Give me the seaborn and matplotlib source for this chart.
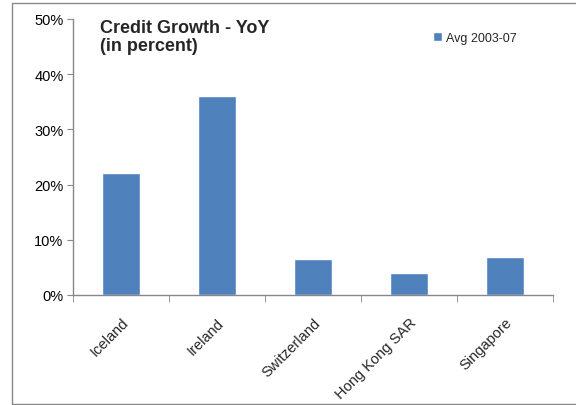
import matplotlib
matplotlib.use('Agg')
import matplotlib.pyplot as plt
import matplotlib.patches as mpatches
import matplotlib.ticker as mticker
import pandas
import seaborn as sns

paises = ['Iceland', 'Ireland', 'Switzerland', 'Hong Kong SAR', 'Singapore']
credito = [22.0, 36.0, 6.6, 3.9, 6.9]
serie = 'Avg 2003-07'

sns.set_style('white')
plt.rcParams['font.family'] = ['Liberation Sans', 'DejaVu Sans']

df = pandas.DataFrame({'pais': paises, 'credito': credito, 'serie': serie})

fig = plt.figure(figsize=(5.76, 4.06), dpi=100)
ax = fig.add_axes([0.127, 0.271, 0.833, 0.680])

grafico = sns.barplot(data=df, x='pais', y='credito', hue='serie', palette=['#4F81BD'],
                      width=0.4, ax=ax, saturation=1)

ax.set_ylim(0, 50)
ax.set_xlim(-0.5, 4.5)
ax.yaxis.set_major_locator(mticker.MultipleLocator(10))
ax.yaxis.set_major_formatter(mticker.FuncFormatter(lambda v, p: f'{v:.0f}%'))
ax.set_xlabel('')
ax.set_ylabel('')

for lado in ['top', 'right']:
    ax.spines[lado].set_visible(False)
for lado in ['left', 'bottom']:
    ax.spines[lado].set_color('#888888')
    ax.spines[lado].set_linewidth(1)

ax.tick_params(axis='y', which='major', left=True, length=4, color='#888888',
               labelsize=10.5, labelcolor='black', pad=3)
ax.set_xticks(range(len(paises)))
ax.set_xticklabels(paises, rotation=45, ha='right', rotation_mode='anchor', fontsize=10.5)
ax.tick_params(axis='x', which='major', bottom=False, pad=11)
ax.set_xticks([i - 0.5 for i in range(len(paises) + 1)], minor=True)
ax.tick_params(axis='x', which='minor', bottom=True, length=5, color='#888888')

ax.text(0.056, 0.999, 'Credit Growth - YoY\n(in percent)', transform=ax.transAxes,
        fontsize=13, fontweight='bold', va='top', ha='left', linespacing=1.05)

ax.legend(loc='upper left', bbox_to_anchor=(0.74, 0.97), frameon=False, fontsize=9,
          handlelength=0.7, handleheight=0.7, handletextpad=0.3, borderaxespad=0)

fig.patches.append(mpatches.Rectangle((12 / 576, 1 / 406), 1.0, 401 / 406, transform=fig.transFigure,
                                      fill=False, edgecolor='#888888', linewidth=1))

fig.savefig('out.png', dpi=100)
